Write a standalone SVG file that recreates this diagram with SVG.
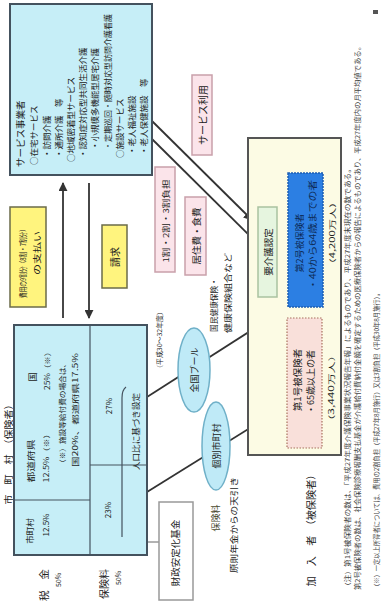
<svg xmlns="http://www.w3.org/2000/svg" width="383" height="607" viewBox="0 0 383 607">
<style>
.t{font-family:"Noto Sans CJK JP","Noto Sans",sans-serif;fill:#222;}
.c{text-anchor:middle;dominant-baseline:central;}
.s{text-anchor:start;dominant-baseline:central;}
.cy{fill:#c6eef7;stroke:#44525e;stroke-width:2;}
.div{stroke:#44525e;stroke-width:1.2;fill:none;}
.yl{fill:#fff47e;stroke:#6b6b4a;stroke-width:1.5;}
.pk{fill:#fbe4ea;stroke:#c9a0aa;stroke-width:1.5;}
.ov{fill:#bfeaf7;stroke:#6fb0c8;stroke-width:1.5;}
.ln{stroke:#333;stroke-width:1.8;fill:none;}
.nt{font-size:6.5px;fill:#444;}
</style>
<defs>
<marker id="ah" viewBox="0 0 10 10" refX="9" refY="5" markerWidth="5" markerHeight="5" orient="auto"><path d="M0,0 L10,5 L0,10 z" fill="#333"/></marker>
<marker id="ahs" viewBox="0 0 10 10" refX="9" refY="5" markerWidth="6" markerHeight="6" orient="auto"><path d="M0,1 L10,5 L0,9 z" fill="#555"/></marker>
</defs>

<rect x="373" y="10" width="5" height="4" fill="#555"/>

<g id="connectors">
<line class="ln" x1="63" y1="318" x2="63" y2="183" marker-end="url(#ah)"/>
<line class="ln" x1="89" y1="183" x2="89" y2="318" marker-end="url(#ah)"/>
<line class="ln" x1="152" y1="121" x2="252" y2="220" stroke-width="1.4" marker-end="url(#ah)"/>
<line class="ln" x1="152" y1="139" x2="258" y2="244" stroke-width="1.4"/>
<line class="ln" x1="288" y1="307" x2="147" y2="397"/>
<line class="ln" x1="287" y1="405" x2="147" y2="492"/>
<line x1="159" y1="542" x2="129" y2="542" stroke="#666" stroke-width="1" marker-end="url(#ahs)"/>
</g>

<g id="service-providers">
<rect class="cy" x="10" y="4" width="142" height="171"/>
<text class="t s" font-size="9.5" transform="translate(20,167) rotate(-90)">サービス事業者</text>
<text class="t s" font-size="8.5" transform="translate(33,165) rotate(-90)">○在宅サービス</text>
<text class="t s" font-size="8.5" transform="translate(46,158) rotate(-90)">・訪問介護</text>
<text class="t s" font-size="8.5" transform="translate(58,158) rotate(-90)">・通所介護　等</text>
<text class="t s" font-size="8.5" transform="translate(70,162) rotate(-90)">○地域密着型サービス</text>
<text class="t s" font-size="8.5" transform="translate(82,158) rotate(-90)">・認知症対応型共同生活介護</text>
<text class="t s" font-size="8.5" transform="translate(94,150) rotate(-90)">・小規模多機能型居宅介護</text>
<text class="t s" font-size="8" transform="translate(107,150) rotate(-90)">・定期巡回・随時対応型訪問介護看護</text>
<text class="t s" font-size="8.5" transform="translate(119,158) rotate(-90)">○施設サービス</text>
<text class="t s" font-size="8.5" transform="translate(131,155) rotate(-90)">・老人福祉施設</text>
<text class="t s" font-size="8.5" transform="translate(143,155) rotate(-90)">・老人保健施設　等</text>
</g>

<g id="payment">
<rect class="yl" x="10" y="207" width="36" height="100"/>
<text class="t c" font-size="7.5" textLength="72" lengthAdjust="spacingAndGlyphs" transform="translate(22,262) rotate(-90)">費用の9割分（8割・7割分）</text>
<text class="t c" font-size="8" textLength="44" lengthAdjust="spacingAndGlyphs" transform="translate(36,253) rotate(-90)">の支払い</text>
</g>

<g id="claim">
<rect class="yl" x="102" y="225" width="25" height="63"/>
<text class="t c" font-size="10" transform="translate(114.5,257) rotate(-90)">請求</text>
</g>

<g id="copay">
<rect class="pk" x="155" y="167" width="20" height="105"/>
<text class="t c" font-size="8" textLength="83" lengthAdjust="spacingAndGlyphs" transform="translate(165,221) rotate(-90)">1割・2割・3割負担</text>
</g>

<g id="living-cost">
<rect class="pk" x="185" y="197" width="21" height="78" stroke="#a07080"/>
<text class="t c" font-size="9.5" transform="translate(195.5,236) rotate(-90)">居住費・食費</text>
</g>

<g id="service-use">
<rect class="pk" x="192" y="75" width="20" height="80"/>
<text class="t c" font-size="10" transform="translate(202,115) rotate(-90)">サービス利用</text>
</g>

<g id="municipality">
<text class="t c" font-size="9.5" textLength="105" lengthAdjust="spacingAndGlyphs" transform="translate(8,452) rotate(-90)">市　町　村　（保険者）</text>
<rect class="cy" x="14" y="325" width="133" height="230"/>
<line class="div" x1="90" y1="325" x2="90" y2="555"/>
<line class="div" x1="14" y1="500" x2="90" y2="500"/>
<line class="div" x1="90" y1="465" x2="147" y2="465"/>
<text class="t c" font-size="8.5" transform="translate(29,531) rotate(-90)">市町村</text>
<text class="t c" font-size="8" transform="translate(45,525) rotate(-90)">12.5%</text>
<text class="t c" font-size="8.5" textLength="43" lengthAdjust="spacingAndGlyphs" transform="translate(30,461) rotate(-90)">都道府県</text>
<text class="t c" font-size="7" textLength="53" lengthAdjust="spacingAndGlyphs" transform="translate(46,456) rotate(-90)">12.5%（※）</text>
<text class="t c" font-size="9" transform="translate(32,377) rotate(-90)">国</text>
<text class="t c" font-size="7" textLength="42" lengthAdjust="spacingAndGlyphs" transform="translate(47,369) rotate(-90)">25%（※）</text>
<text class="t s" font-size="7" textLength="107" lengthAdjust="spacingAndGlyphs" transform="translate(62,467) rotate(-90)">（※）施設等給付費の場合は、</text>
<text class="t s" font-size="7" textLength="114" lengthAdjust="spacingAndGlyphs" transform="translate(75,467) rotate(-90)">国20%、都道府県17.5%</text>
<text class="t c" font-size="8" transform="translate(108,406) rotate(-90)">27%</text>
<text class="t c" font-size="8" transform="translate(107,510) rotate(-90)">23%</text>
<path class="div" d="M126,387 Q122,390 122,398 L122,537" stroke-width="1"/>
<text class="t s" font-size="8" textLength="77" lengthAdjust="spacingAndGlyphs" transform="translate(135,470) rotate(-90)">人口比に基づき設定</text>
<text class="t c" font-size="10" textLength="32" lengthAdjust="spacingAndGlyphs" transform="translate(43,585) rotate(-90)">税　金</text>
<text class="t c" font-size="7" transform="translate(58,580) rotate(-90)">50%</text>
<text class="t c" font-size="10" transform="translate(103,584) rotate(-90)">保険料</text>
<text class="t c" font-size="7" transform="translate(118,578) rotate(-90)">50%</text>
</g>

<g id="fund">
<rect x="159" y="502" width="34" height="98" fill="#fff" stroke="#999" stroke-width="1.5"/>
<text class="t c" font-size="9.5" transform="translate(175,553) rotate(-90)">財政安定化基金</text>
</g>

<text class="t c" font-size="6.5" textLength="64" lengthAdjust="spacingAndGlyphs" transform="translate(159,340) rotate(-90)">（平成30～32年度）</text>

<g id="insured">
<rect x="248" y="138" width="93" height="317" fill="#fcfbe4" stroke="#555" stroke-width="2"/>
<text class="t c" font-size="10" textLength="117" lengthAdjust="spacingAndGlyphs" transform="translate(310,528) rotate(-90)">加　入　者　（被保険者）</text>
</g>

<g id="certification">
<rect x="258" y="207" width="19" height="90" fill="#e6f5df" stroke="#a9c2a0" stroke-width="1.5"/>
<text class="t c" font-size="9.5" transform="translate(267.5,252) rotate(-90)">要介護認定</text>
</g>

<g id="insured-2">
<rect x="288" y="173" width="35" height="134" fill="#2c7fe3" stroke="#1d5fb4" stroke-width="1.5" stroke-dasharray="2 1"/>
<text class="t c" font-size="9" transform="translate(299,243) rotate(-90)" style="fill:#0d2a55">第2号被保険者</text>
<text class="t c" font-size="9" textLength="110" lengthAdjust="spacingAndGlyphs" transform="translate(312,235) rotate(-90)" style="fill:#0d2a55">・40から64歳までの者</text>
<text class="t c" font-size="7" textLength="73" lengthAdjust="spacingAndGlyphs" transform="translate(332,233) rotate(-90)">（4,200万人）</text>
</g>

<g id="insured-1">
<rect x="287" y="318" width="35" height="130" fill="#f9e0da" stroke="#a8705e" stroke-width="1.2" stroke-dasharray="1.5 1.5"/>
<text class="t c" font-size="9.5" transform="translate(297,380) rotate(-90)">第1号被保険者</text>
<text class="t c" font-size="9" transform="translate(310,382) rotate(-90)">・65歳以上の者</text>
<text class="t c" font-size="7" textLength="77" lengthAdjust="spacingAndGlyphs" transform="translate(331,388) rotate(-90)">（3,440万人）</text>
</g>

<g id="national-pool">
<ellipse class="ov" cx="194" cy="370" rx="16" ry="42"/>
<text class="t c" font-size="9" transform="translate(194,370) rotate(-90)">全国プール</text>
</g>

<g id="individual-municipality">
<ellipse class="ov" cx="216" cy="446" rx="14" ry="44"/>
<text class="t c" font-size="9" transform="translate(216,446) rotate(-90)">個別市町村</text>
</g>

<g id="line-labels">
<text class="t c" font-size="8" textLength="54" lengthAdjust="spacingAndGlyphs" transform="translate(213,305) rotate(-90)">国民健康保険・</text>
<text class="t c" font-size="8" textLength="80" lengthAdjust="spacingAndGlyphs" transform="translate(227,293) rotate(-90)">健康保険組合など</text>
<text class="t c" font-size="9" transform="translate(215,518) rotate(-90)" style="fill:#4a4a30">保険料</text>
<text class="t c" font-size="8.5" textLength="96" lengthAdjust="spacingAndGlyphs" transform="translate(233,525) rotate(-90)">原則年金からの天引き</text>
</g>

<g id="notes">
<text class="t s nt" textLength="425" lengthAdjust="spacingAndGlyphs" transform="translate(347,590) rotate(-90)">（注）第1号被保険者の数は、「平成27年度介護保険事業状況報告年報」によるものであり、平成27年度末現在の数である。</text>
<text class="t s nt" textLength="547" lengthAdjust="spacingAndGlyphs" transform="translate(357,590) rotate(-90)">第2号被保険者の数は、社会保険診療報酬支払基金が介護給付費納付金額を確定するための医療保険者からの報告によるものであり、平成27年度内の月平均値である。</text>
<text class="t s nt" textLength="300" lengthAdjust="spacingAndGlyphs" transform="translate(376,590) rotate(-90)">（※）一定以上所得者については、費用の2割負担（平成27年8月施行）又は3割負担（平成30年8月施行）。</text>
</g>
</svg>
